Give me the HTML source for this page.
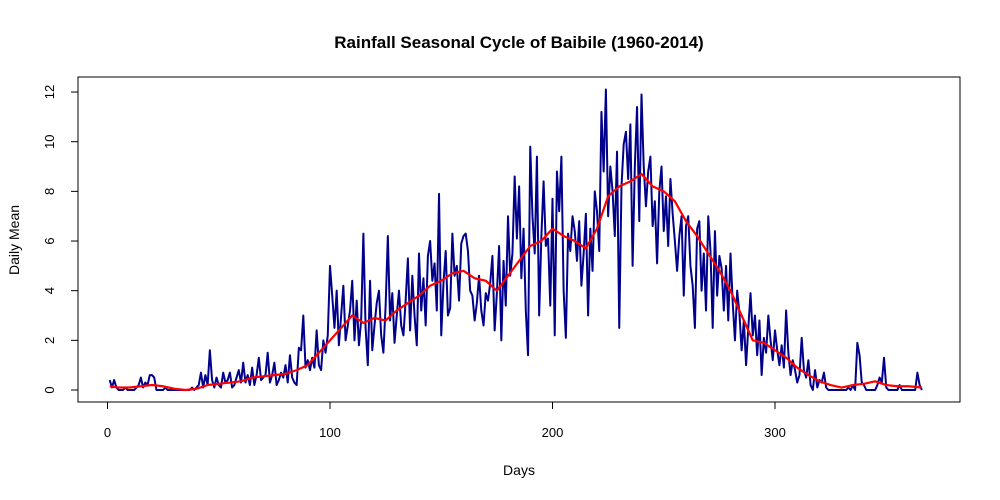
<!DOCTYPE html>
<html><head><meta charset="utf-8"><style>
html,body{margin:0;padding:0;background:#fff;}
svg{display:block;font-family:"Liberation Sans",Arial,sans-serif;}
</style></head><body>
<svg id="chart" width="1000" height="500" viewBox="0 0 1000 500">
<text x="519" y="48" text-anchor="middle" font-size="17" font-weight="bold">Rainfall Seasonal Cycle of Baibile (1960-2014)</text>
<text x="519" y="475" text-anchor="middle" font-size="14">Days</text>
<text x="0" y="0" transform="translate(19,240) rotate(-90)" text-anchor="middle" font-size="14">Daily Mean</text>
<rect x="78" y="77" width="882" height="325" fill="none" stroke="#000" stroke-width="1"/>
<g id="axes"></g>
<g id="series"></g>
</svg>
<script>
const xTicks=[0,100,200,300];
const yTicks=[0,2,4,6,8,10,12];
const dailyMean=[
0.4,0.1,0.4,0.1,0,0,0,0.1,0,0,
0,0,0.1,0.2,0.5,0.1,0.3,0.2,0.6,0.6,
0.5,0,0,0,0,0.1,0,0,0,0,
0,0,0,0,0,0,0,0.1,0,0.1,
0.2,0.7,0.1,0.6,0.2,1.6,0.4,0.1,0.5,0.2,
0.1,0.7,0.3,0.4,0.7,0.1,0.2,0.5,0.8,0.3,
1.1,0.3,0.6,0.2,0.9,0.2,0.6,1.3,0.4,0.5,
0.6,1.5,0.3,0.6,1.1,0.2,0.4,0.7,0.5,1.0,
0.3,1.4,0.5,0.3,0.2,1.7,1.6,3.0,0.9,1.2,
0.8,1.3,0.9,2.4,1.0,0.8,2.0,1.5,2.2,5.0,
3.8,2.5,4.0,1.8,3.0,4.2,2.0,2.6,3.2,4.4,
2.0,3.6,1.8,2.8,6.3,2.5,1.0,4.4,1.6,2.6,
3.5,4.0,2.2,1.5,3.4,6.2,2.8,3.9,1.9,3.0,
4.0,2.6,2.2,3.6,5.3,2.4,4.6,3.0,1.8,5.5,
3.2,4.5,2.6,5.4,6.0,4.4,5.1,3.2,7.9,2.2,
4.3,5.6,3.0,3.3,6.3,4.6,5.0,3.6,5.9,6.2,
6.3,5.6,4.0,3.8,2.8,3.5,4.6,3.2,2.6,3.9,
3.6,4.3,5.4,2.4,3.9,5.8,2.0,5.2,3.4,7.0,
4.6,5.5,8.6,6.1,8.2,4.5,6.5,3.2,1.4,9.8,
7.0,5.5,9.4,3.0,6.2,8.4,5.8,6.1,3.4,7.7,
2.2,8.8,7.2,9.4,4.0,2.1,6.3,5.6,7.0,6.4,
5.2,6.8,4.2,5.5,7.1,3.0,6.5,4.8,8.0,7.2,
5.6,11.2,8.8,12.1,7.0,9.0,8.0,6.2,9.6,2.5,
8.2,9.9,10.4,8.5,10.7,5.0,9.0,11.4,6.8,11.9,
9.0,7.4,8.8,9.4,6.6,7.6,5.1,8.0,9.0,6.4,
7.8,5.8,8.5,7.1,6.0,4.8,6.2,7.0,3.8,6.6,
7.0,5.0,4.2,2.5,6.5,6.8,4.0,5.5,3.2,7.0,
5.6,2.5,6.4,3.8,5.4,4.9,3.2,5.0,2.8,5.5,
3.5,2.0,4.0,3.1,1.6,2.8,1.0,2.5,3.9,2.2,
3.0,1.4,2.8,0.6,2.1,1.5,3.0,2.0,1.2,2.4,
1.6,1.0,1.8,0.9,3.2,1.5,0.6,1.2,0.8,0.3,
0.6,2.1,0.8,0.5,1.2,0.2,0,0.8,0.1,0.4,
0.3,0.7,0.1,0,0,0,0,0,0,0,
0,0,0.1,0,0.2,0,1.9,1.4,0.3,0.2,
0,0,0,0,0,0.2,0.5,0.3,1.3,0.1,
0,0,0,0,0,0.2,0,0,0,0,
0,0,0,0.7,0.2,0];
const smoothDays=[1,5,10,15,20,25,30,35,40,45,50,55,60,65,70,75,80,85,90,95,100,105,110,115,120,125,130,135,140,145,150,155,160,165,170,175,180,185,190,195,200,205,210,215,220,225,230,235,240,245,250,255,260,265,270,275,280,285,290,295,300,305,310,315,320,325,330,335,340,345,350,355,360,366];
const smoothMean=[0.15,0.1,0.1,0.15,0.2,0.15,0.05,0.0,0.05,0.2,0.25,0.3,0.35,0.5,0.55,0.6,0.65,0.8,1.0,1.5,2.0,2.5,3.0,2.7,2.9,2.8,3.2,3.5,3.8,4.2,4.4,4.7,4.8,4.5,4.4,4.0,4.6,5.2,5.8,6.0,6.5,6.2,6.0,5.7,6.5,7.8,8.2,8.4,8.7,8.2,8.0,7.6,6.8,6.2,5.5,4.8,4.0,3.0,2.0,1.9,1.6,1.3,0.9,0.6,0.35,0.2,0.1,0.2,0.25,0.35,0.2,0.15,0.15,0.1];

const NS='http://www.w3.org/2000/svg';
const sx=d=>107.5+d*2.225;
const sy=v=>390-v*24.83;
const axes=document.getElementById('axes');
const series=document.getElementById('series');
function mk(tag,attrs,parent){const e=document.createElementNS(NS,tag);for(const k in attrs)e.setAttribute(k,attrs[k]);parent.appendChild(e);return e;}
mk('line',{x1:sx(0),x2:sx(300),y1:402,y2:402,stroke:'#000'},axes);
xTicks.forEach(t=>{
  const l=mk('line',{x1:sx(t),x2:sx(t),y1:402,y2:409,stroke:'#000'},axes);
  
  
  const tx=mk('text',{x:sx(t),y:437,'text-anchor':'middle','font-size':'13'},axes);
  tx.textContent=t;
  
  
});
mk('line',{x1:78,x2:78,y1:sy(0),y2:sy(12),stroke:'#000'},axes);
yTicks.forEach(t=>{
  const l=mk('line',{x1:71,x2:78,y1:sy(t),y2:sy(t),stroke:'#000'},axes);
  
  
  const tx=mk('text',{x:0,y:0,transform:`translate(54,${sy(t)}) rotate(-90)`,'text-anchor':'middle','font-size':'13'},axes);
  tx.textContent=t;
  
  
});
const bp=dailyMean.map((v,i)=>sx(i+1).toFixed(2)+','+sy(v).toFixed(2)).join(' ');
const b=mk('polyline',{points:bp,fill:'none',stroke:'#00008B','stroke-width':2,'stroke-linejoin':'round'},series);


const rp=smoothMean.map((v,i)=>sx(smoothDays[i]).toFixed(2)+','+sy(v).toFixed(2)).join(' ');
const r=mk('polyline',{points:rp,fill:'none',stroke:'#FF0000','stroke-width':2.2,'stroke-linejoin':'round'},series);


</script>
</body></html>
